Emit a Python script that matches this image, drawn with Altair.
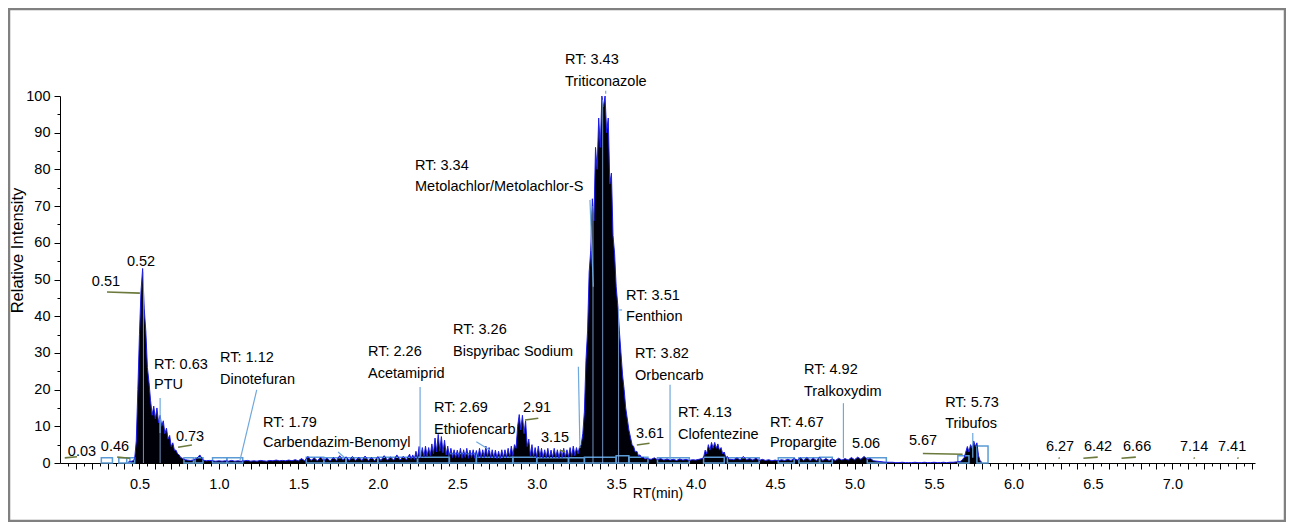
import altair as alt
import pandas as pd

FONT = "Liberation Sans"

# ---- chromatogram trace: (start RT, step, intensities) ----
seg_start = [0.43, 0.48, 0.82, 2.21, 3.28, 3.72, 4.05, 4.24, 5.67]
seg_step = [0.01, 0.01, 0.02, 0.01, 0.01, 0.02, 0.01, 0.02, 0.01]
seg_vals = [
    [0.3, 0.4, 0.5, 0.6, 1.2],
    [6, 20, 35, 47, 53, 42, 36, 26, 22, 17, 13, 15.5, 12, 15, 11, 13, 10, 11.5,
     8, 9.5, 6.5, 7.5, 4.5, 5.5, 3.5, 3.5, 2.5, 2.2, 1.5, 1.3, 1.0, 0.9, 0.8],
    [0.7, 0.8, 1.2, 2.2, 0.8, 0.6, 0.7, 0.6, 0.5, 0.6,
     0.5, 0.6, 0.5, 0.7, 0.5, 0.6, 0.5, 0.6, 0.7, 0.5,
     0.6, 0.5, 0.7, 0.6, 0.5, 0.7, 0.6, 0.8, 0.6, 0.7,
     0.6, 0.8, 0.6, 0.9, 0.6, 1.2, 0.6, 1.8, 0.7, 1.4,
     0.6, 1.6, 0.7, 1.3, 0.6, 1.5, 0.7, 2.0, 0.8, 1.7,
     0.7, 1.8, 0.7, 1.6, 0.7, 1.9, 0.7, 1.5, 0.7, 1.7,
     0.7, 2.0, 0.8, 1.6, 0.8, 2.2, 0.8, 1.8, 0.9, 2.4],
    [1.0, 2.2, 1.0, 3.2, 1.2, 4.5, 1.5, 4.2, 1.6, 4.6,
     1.8, 4.2, 2.0, 5.2, 2.5, 6.8, 3.0, 7.8, 3.2, 7.2,
     2.8, 6.2, 2.2, 4.6, 1.8, 4.0, 1.5, 3.6, 1.4, 3.5,
     1.5, 4.0, 1.3, 3.6, 1.5, 4.0, 1.3, 3.5, 1.4, 3.6,
     1.3, 3.4, 1.5, 4.0, 1.4, 3.6, 1.5, 4.6, 1.6, 4.2,
     1.4, 3.6, 1.3, 3.5, 1.2, 3.2, 1.2, 3.6, 1.4, 3.6,
     1.5, 4.0, 1.6, 4.6, 2.0, 5.0, 4.0, 10, 13.2, 9,
     13, 8, 11.5, 4.5, 6.5, 2.0, 5.0, 1.6, 4.2, 1.5,
     4.6, 1.5, 4.0, 1.3, 3.6, 1.4, 4.0, 1.3, 3.5, 1.4,
     4.0, 1.5, 3.6, 1.3, 3.6, 1.5, 4.0, 1.6, 3.6, 1.6,
     4.2, 1.8, 4.6, 2.0, 4.2, 2.5, 4.5],
    [5, 8, 14, 28, 36, 52, 58, 72, 66, 86,
     80, 94, 86, 100, 97, 100, 90, 94, 76, 79,
     62, 57, 48, 43, 36, 30, 24, 20, 15, 12,
     9, 7, 5, 4.5, 3, 3.2, 2, 2.2, 1.4, 1.6, 1.1, 1.2],
    [1.0, 1.4, 0.9, 1.2, 0.8, 1.1, 0.8, 1.0, 0.7, 1.1, 0.8, 1.0, 0.7, 0.9, 0.8, 1.0, 1.2],
    [1.5, 3.5, 2.5, 5, 3.5, 5.6, 4, 5.6, 4, 5.2, 3.5, 4.2, 2.5, 3, 1.5, 1.8, 1.0, 1.0],
    [0.9, 1.4, 0.8, 1.8, 0.9, 1.2, 0.8, 1.3, 0.7, 1.0,
     0.7, 0.9, 0.6, 0.8, 0.6, 0.9, 0.7, 1.0, 0.7, 1.2,
     0.8, 1.4, 0.7, 1.5, 0.7, 1.3, 0.7, 1.6, 0.7, 1.2,
     0.7, 1.1, 0.7, 1.3, 0.8, 1.2, 0.8, 1.5, 0.9, 1.6,
     1.0, 1.8, 1.0, 1.2, 0.6, 0.5, 0.4, 0.3, 0.2, 0.2,
     0.2, 0.1, 0.1, 0.2, 0.1, 0.1, 0.1, 0.2, 0.1, 0.1,
     0.2, 0.1, 0.1, 0.2, 0.1, 0.1, 0.2, 0.1, 0.2, 0.2, 0.3, 0.4],
    [0.5, 1, 1.5, 3, 4.5, 3, 5, 4, 6, 4.5, 5.5, 2, 0.6, 0.3],
]

rows = []
for s, st, vals in zip(seg_start, seg_step, seg_vals):
    for i, v in enumerate(vals):
        rows.append({"rt": round(s + i * st, 3), "inten": v})
trace = pd.DataFrame(rows).sort_values("rt")

# ---- integration boxes (RT start, RT end, height) ----
box_start = [0.26, 0.37, 0.42, 0.78, 0.85, 0.96, 1.05, 1.55, 1.66, 1.80, 2.00, 2.25,
             2.45, 2.62, 2.85, 3.00, 3.20, 3.30, 3.50, 3.58, 3.76, 4.05, 4.20, 4.52,
             4.65, 4.78, 5.08, 5.65, 5.77]
box_end = [0.33, 0.44, 0.47, 0.84, 0.90, 1.05, 1.15, 1.66, 1.80, 2.00, 2.25, 2.45,
           2.62, 2.85, 3.00, 3.20, 3.30, 3.50, 3.58, 3.70, 3.96, 4.18, 4.40, 4.62,
           4.78, 4.86, 5.20, 5.72, 5.84]
box_h = [1.4, 1.4, 1.4, 1.4, 1.4, 1.4, 1.4, 1.6, 1.4, 1.4, 1.6, 1.6,
         2.6, 1.6, 1.6, 1.4, 1.4, 1.6, 2.0, 1.6, 1.4, 1.6, 1.4, 1.4,
         1.4, 1.6, 1.4, 2.0, 4.6]
boxes = pd.DataFrame({"rt": box_start, "rt2": box_end, "inten": [0] * len(box_h), "inten2": box_h})

# ---- peak labels ----
lab_text = ["RT: 3.43", "Triticonazole", "RT: 3.34", "Metolachlor/Metolachlor-S",
            "RT: 3.51", "Fenthion", "RT: 3.26", "Bispyribac Sodium",
            "RT: 3.82", "Orbencarb", "RT: 2.26", "Acetamiprid",
            "RT: 1.12", "Dinotefuran", "RT: 0.63", "PTU",
            "RT: 4.92", "Tralkoxydim", "RT: 5.73", "Tribufos",
            "RT: 2.69", "Ethiofencarb", "RT: 4.13", "Clofentezine",
            "RT: 1.79", "Carbendazim-Benomyl", "RT: 4.67", "Propargite"]
lab_x = [3.178, 3.178, 2.234, 2.234, 3.562, 3.562, 2.473, 2.473,
         3.619, 3.619, 1.938, 1.938, 1.007, 1.007, 0.592, 0.592,
         4.682, 4.682, 5.570, 5.570, 2.354, 2.354, 3.889, 3.889,
         1.278, 1.278, 4.468, 4.468]
lab_y = [109.8, 103.8, 80.9, 75.2, 45.5, 39.8, 36.2, 30.2,
         29.7, 23.7, 30.2, 24.3, 28.6, 22.6, 26.7, 21.3,
         25.3, 19.3, 16.3, 10.6, 15.0, 9.0, 13.6, 7.6,
         10.9, 5.4, 10.9, 5.4]
labels = pd.DataFrame({"t": lab_text, "rt": lab_x, "inten": lab_y})

num_text = ["0.52", "0.51", "2.91", "0.73", "3.61", "3.15", "5.06", "5.67",
            "0.03", "0.46", "6.27", "6.42", "6.66", "7.14", "7.41"]
num_x = [0.510, 0.289, 3.002, 0.818, 3.713, 3.115, 5.072, 5.431,
         0.138, 0.346, 6.293, 6.532, 6.778, 7.137, 7.376]
num_y = [54.8, 49.3, 15.0, 7.1, 7.9, 6.8, 5.2, 6.0,
         3.0, 4.4, 4.4, 4.4, 4.4, 4.4, 4.4]
numlabels = pd.DataFrame({"t": num_text, "rt": num_x, "inten": num_y})

# ---- leader lines ----
lead_x1 = [0.63, 1.238, 1.75, 2.266, 3.262, 2.62, 3.335, 3.52, 3.839, 4.93, 5.744, 3.434]
lead_y1 = [17.7, 19.9, 3.0, 20.7, 26.2, 5.8, 71.7, 41.7, 21.3, 16.3, 8.2, 101.4]
lead_x2 = [0.63, 1.133, 1.79, 2.266, 3.272, 2.706, 3.356, 3.537, 3.839, 4.93, 5.744, 3.434]
lead_y2 = [8.2, 0.8, 1.5, 1.6, 4.1, 3.5, 48.0, 41.7, 0.8, 1.4, 1.4, 100.6]
leaders = pd.DataFrame({"rt": lead_x1, "inten": lead_y1, "rt2": lead_x2, "inten2": lead_y2})

peak_x = [0.525, 3.354, 3.415, 3.515, 0.63]
peak_top = [52.0, 70.0, 99.0, 42.0, 12.0]
peaklines = pd.DataFrame({"rt": peak_x, "inten": [0] * 5, "rt2": peak_x, "inten2": peak_top})

ol_x1 = [0.296, 0.03, 0.36, 0.743, 2.926, 3.146, 3.63, 5.43, 6.44, 6.68, 6.285, 7.135, 7.41]
ol_y1 = [46.6, 1.4, 1.6, 4.3, 11.7, 3.5, 4.9, 2.6, 1.3, 1.3, 1.5, 1.5, 1.5]
ol_x2 = [0.503, 0.107, 0.44, 0.83, 3.01, 3.18, 3.71, 5.68, 6.53, 6.77, 6.29, 7.14, 7.415]
ol_y2 = [46.3, 1.7, 1.3, 4.9, 12.2, 3.0, 5.4, 2.4, 1.6, 1.6, 1.2, 1.2, 1.2]
olive = pd.DataFrame({"rt": ol_x1, "inten": ol_y1, "rt2": ol_x2, "inten2": ol_y2})

# ---- scales / axes ----
xticks = [round(0.05 * k, 2) for k in range(1, 151)]
yticks = list(range(0, 101, 5))
xs = alt.Scale(domain=[0, 7.52], nice=False, zero=False)
ys = alt.Scale(domain=[0, 100], nice=False)

xaxis = alt.Axis(
    values=xticks, title="RT(min)", grid=False,
    labelExpr="(abs(datum.value*2 - round(datum.value*2)) < 0.001 && datum.value < 7.4) ? format(datum.value, '.1f') : ''",
    tickSize=6,
    tickDash={"condition": {"test": "abs(datum.value*10 - round(datum.value*10)) < 0.001", "value": [6, 0]},
              "value": [3, 10]},
    labelOverlap=False, labelFlush=False, labelPadding=8,
    labelFontSize=14.5, titleFontSize=14, titleFontWeight="normal",
    titleY=30, titleBaseline="middle",
    domainColor="black", tickColor="black", labelColor="black", titleColor="black",
    labelFont=FONT, titleFont=FONT,
)
yaxis = alt.Axis(
    values=yticks, title="Relative Intensity", grid=False,
    labelExpr="datum.value % 10 === 0 ? datum.value : ''",
    tickSize=6,
    tickDash={"condition": {"test": "datum.value % 10 === 0", "value": [6, 0]}, "value": [3, 10]},
    labelOverlap=False, labelFlush=False, labelPadding=4,
    labelFontSize=14.5, titleFontSize=16.5, titleFontWeight="normal",
    titleX=-43, titleY=154, titleBaseline="middle",
    domainColor="black", tickColor="black", labelColor="black", titleColor="black",
    labelFont=FONT, titleFont=FONT,
)

X = alt.X("rt:Q", scale=xs, axis=xaxis)
Y = alt.Y("inten:Q", scale=ys, axis=yaxis)

base = alt.Chart(trace)
area = base.mark_area(color="#000008", interpolate="linear").encode(x=X, y=Y)
line = base.mark_line(color="#1c1ce8", strokeWidth=1, interpolate="linear").encode(x=X, y=Y)

def seg_enc(ch):
    return ch.encode(x=X, x2="rt2:Q", y=Y, y2="inten2:Q")

box_layer = seg_enc(alt.Chart(boxes).mark_rect(filled=False, stroke="#5b9bd5", strokeWidth=1.5))
lead_layer = seg_enc(alt.Chart(leaders).mark_rule(color="#6fa8dc", strokeWidth=1.2))
peak_layer = seg_enc(alt.Chart(peaklines).mark_rule(color="#8fb8e8", strokeWidth=1, opacity=0.8))
olive_layer = seg_enc(alt.Chart(olive).mark_rule(color="#6b7a3c", strokeWidth=1.6))

txt = alt.Chart(labels).mark_text(
    align="left", baseline="middle", font=FONT, fontSize=14.5, color="black"
).encode(x=X, y=Y, text="t:N")
ntxt = alt.Chart(numlabels).mark_text(
    align="center", baseline="middle", font=FONT, fontSize=14.5, color="black"
).encode(x=X, y=Y, text="t:N")

frame = alt.Chart(pd.DataFrame({"a": [0]})).mark_rect(
    filled=False, stroke="#808080", strokeWidth=2.5
).encode(
    x=alt.value(-51), x2=alt.value(1225), y=alt.value(-87), y2=alt.value(425)
)

chart = alt.layer(
    area, box_layer, line, peak_layer, lead_layer, olive_layer, txt, ntxt, frame
).properties(
    width=1195, height=367,
    background="white",
    autosize=alt.AutoSizeParams(type="none"),
    padding={"left": 52, "top": 88, "right": 31, "bottom": 59},
).configure_view(strokeWidth=0)

chart.save("out.html", embed_options={"renderer": "svg", "actions": False})
